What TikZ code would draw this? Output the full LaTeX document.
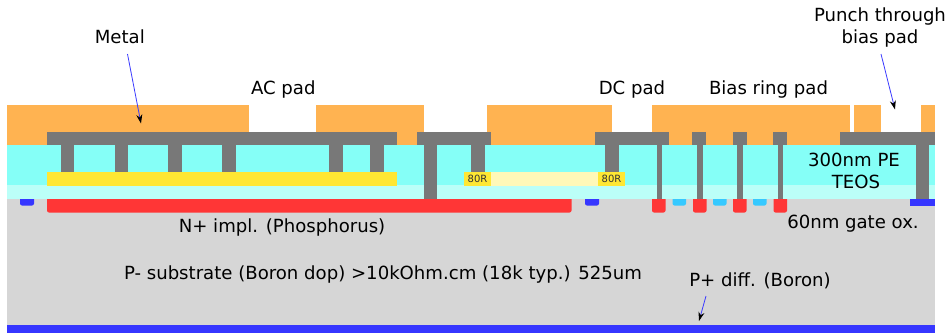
\documentclass[tikz,border=0pt]{standalone}
\usepackage{fontspec}
\setmainfont{DejaVu Sans}
\definecolor{padc}{HTML}{FFB351}
\definecolor{metalc}{HTML}{787878}
\definecolor{teosc}{HTML}{85FFF7}
\definecolor{gatec}{HTML}{BBFFF8}
\definecolor{subc}{HTML}{D6D6D6}
\definecolor{polyc}{HTML}{FFE733}
\definecolor{palec}{HTML}{FFF8B8}
\definecolor{redc}{HTML}{FF3636}
\definecolor{bluec}{HTML}{3636FF}
\definecolor{skyc}{HTML}{36C9FF}
\definecolor{arrowc}{HTML}{3A3AFF}
\newcommand{\lay}[5]{\fill[#1] (#2,#3) rectangle (#4,#5);}
\newcommand{\implant}[5]{\fill[#1] (#2,#3) -- (#4,#3) {[rounded corners=2pt] -- (#4,#5) -- (#2,#5)} -- cycle;}
\tikzset{
  lbl/.style={font=\fontsize{18.1}{22}\selectfont,text=black,inner sep=0pt,align=center},
  rlab/.style={font=\fontsize{10}{11}\selectfont,text=black!80,inner sep=0pt},
  ptr/.style={draw=arrowc,line width=0.8pt,-{Stealth[black,length=9pt,width=6pt]}}
}
\usetikzlibrary{arrows.meta}
\begin{document}
\begin{tikzpicture}[x=1pt,y=-1pt]
\useasboundingbox (0,0) rectangle (947,333);
% substrate and oxides
\lay{subc}{7}{199}{935}{333}
\lay{bluec}{7}{325}{935}{333}
\lay{gatec}{7}{185}{935}{199}
\lay{teosc}{7}{145}{935}{185}
% pads
\lay{padc}{7}{105}{249}{145}
\lay{padc}{316}{105}{424}{145}
\lay{padc}{487}{105}{612}{145}
\lay{padc}{652}{105}{850}{145}
\lay{padc}{854}{105}{881}{132}
\lay{padc}{921}{105}{935}{132}
% poly layers
\lay{polyc}{47}{172}{397}{186}
\lay{palec}{491}{172}{598}{186}
\lay{polyc}{464}{172}{491}{186}
\lay{polyc}{598}{172}{625}{186}
% metal
\lay{metalc}{47}{132}{397}{145}
\lay{metalc}{417}{132}{491}{145}
\lay{metalc}{595}{132}{669}{145}
\lay{metalc}{692}{132}{706}{145}
\lay{metalc}{733}{132}{747}{145}
\lay{metalc}{773}{132}{787}{145}
\lay{metalc}{840}{132}{935}{145}
% short vias
\foreach \a in {60.5,114.5,168,222,329,370,471,605}
  {\lay{metalc}{\a}{145}{\a+13.5}{172}}
% tall vias
\lay{metalc}{424}{145}{437}{199}
\lay{metalc}{916}{145}{929}{199}
\foreach \a in {656.5,697,737,777.5}
  {\lay{metalc}{\a}{145}{\a+5.5}{199}}
% implants
\implant{redc}{47}{199}{571.5}{212.5}
\implant{bluec}{20}{199}{34}{205.5}
\implant{bluec}{585}{199}{599}{205.5}
\lay{bluec}{910}{199}{935}{205.5}
\foreach \a in {652,693,733,773.5}
  {\implant{redc}{\a}{199}{\a+13.5}{212.5}}
\foreach \a in {672.5,713,753}
  {\implant{skyc}{\a}{199}{\a+13.5}{205.5}}
% labels
\node[lbl] (metal) at (119.8,37) {Metal};
\node[lbl] (acpad) at (283.3,89.5) {AC pad};
\node[lbl] (dcpad) at (632,89.5) {DC pad};
\node[lbl] (biasring) at (768.5,89.5) {Bias ring pad};
\node[lbl] (punch) at (880,28) {Punch through\\bias pad};
\node[lbl] (teos) at (854,171) {300nm PE\\\hspace{4pt}TEOS};
\node[lbl] (gateox) at (853,224) {60nm gate ox.};
\node[lbl] (nimpl) at (282,227) {N+ impl. (Phosphorus)};
\node[lbl] (psub) at (383,274) {P- substrate (Boron dop) >10kOhm.cm (18k typ.) 525um};
\node[lbl] (pdiff) at (760,280.5) {P+ diff. (Boron)};
\node[rlab] (ra) at (477.5,179) {80R};
\node[rlab] (rb) at (611.5,179) {80R};
% pointers
\coordinate (metalfrom) at (127.5,54);
\coordinate (metalto) at (141,123.5);
\coordinate (punchfrom) at (881,54);
\coordinate (punchto) at (895,109.5);
\coordinate (pdifffrom) at (706,296);
\coordinate (pdiffto) at (699,321);
\draw[ptr] (metalfrom) -- (metalto);
\draw[ptr] (punchfrom) -- (punchto);
\draw[ptr] (pdifffrom) -- (pdiffto);
\end{tikzpicture}
\end{document}
